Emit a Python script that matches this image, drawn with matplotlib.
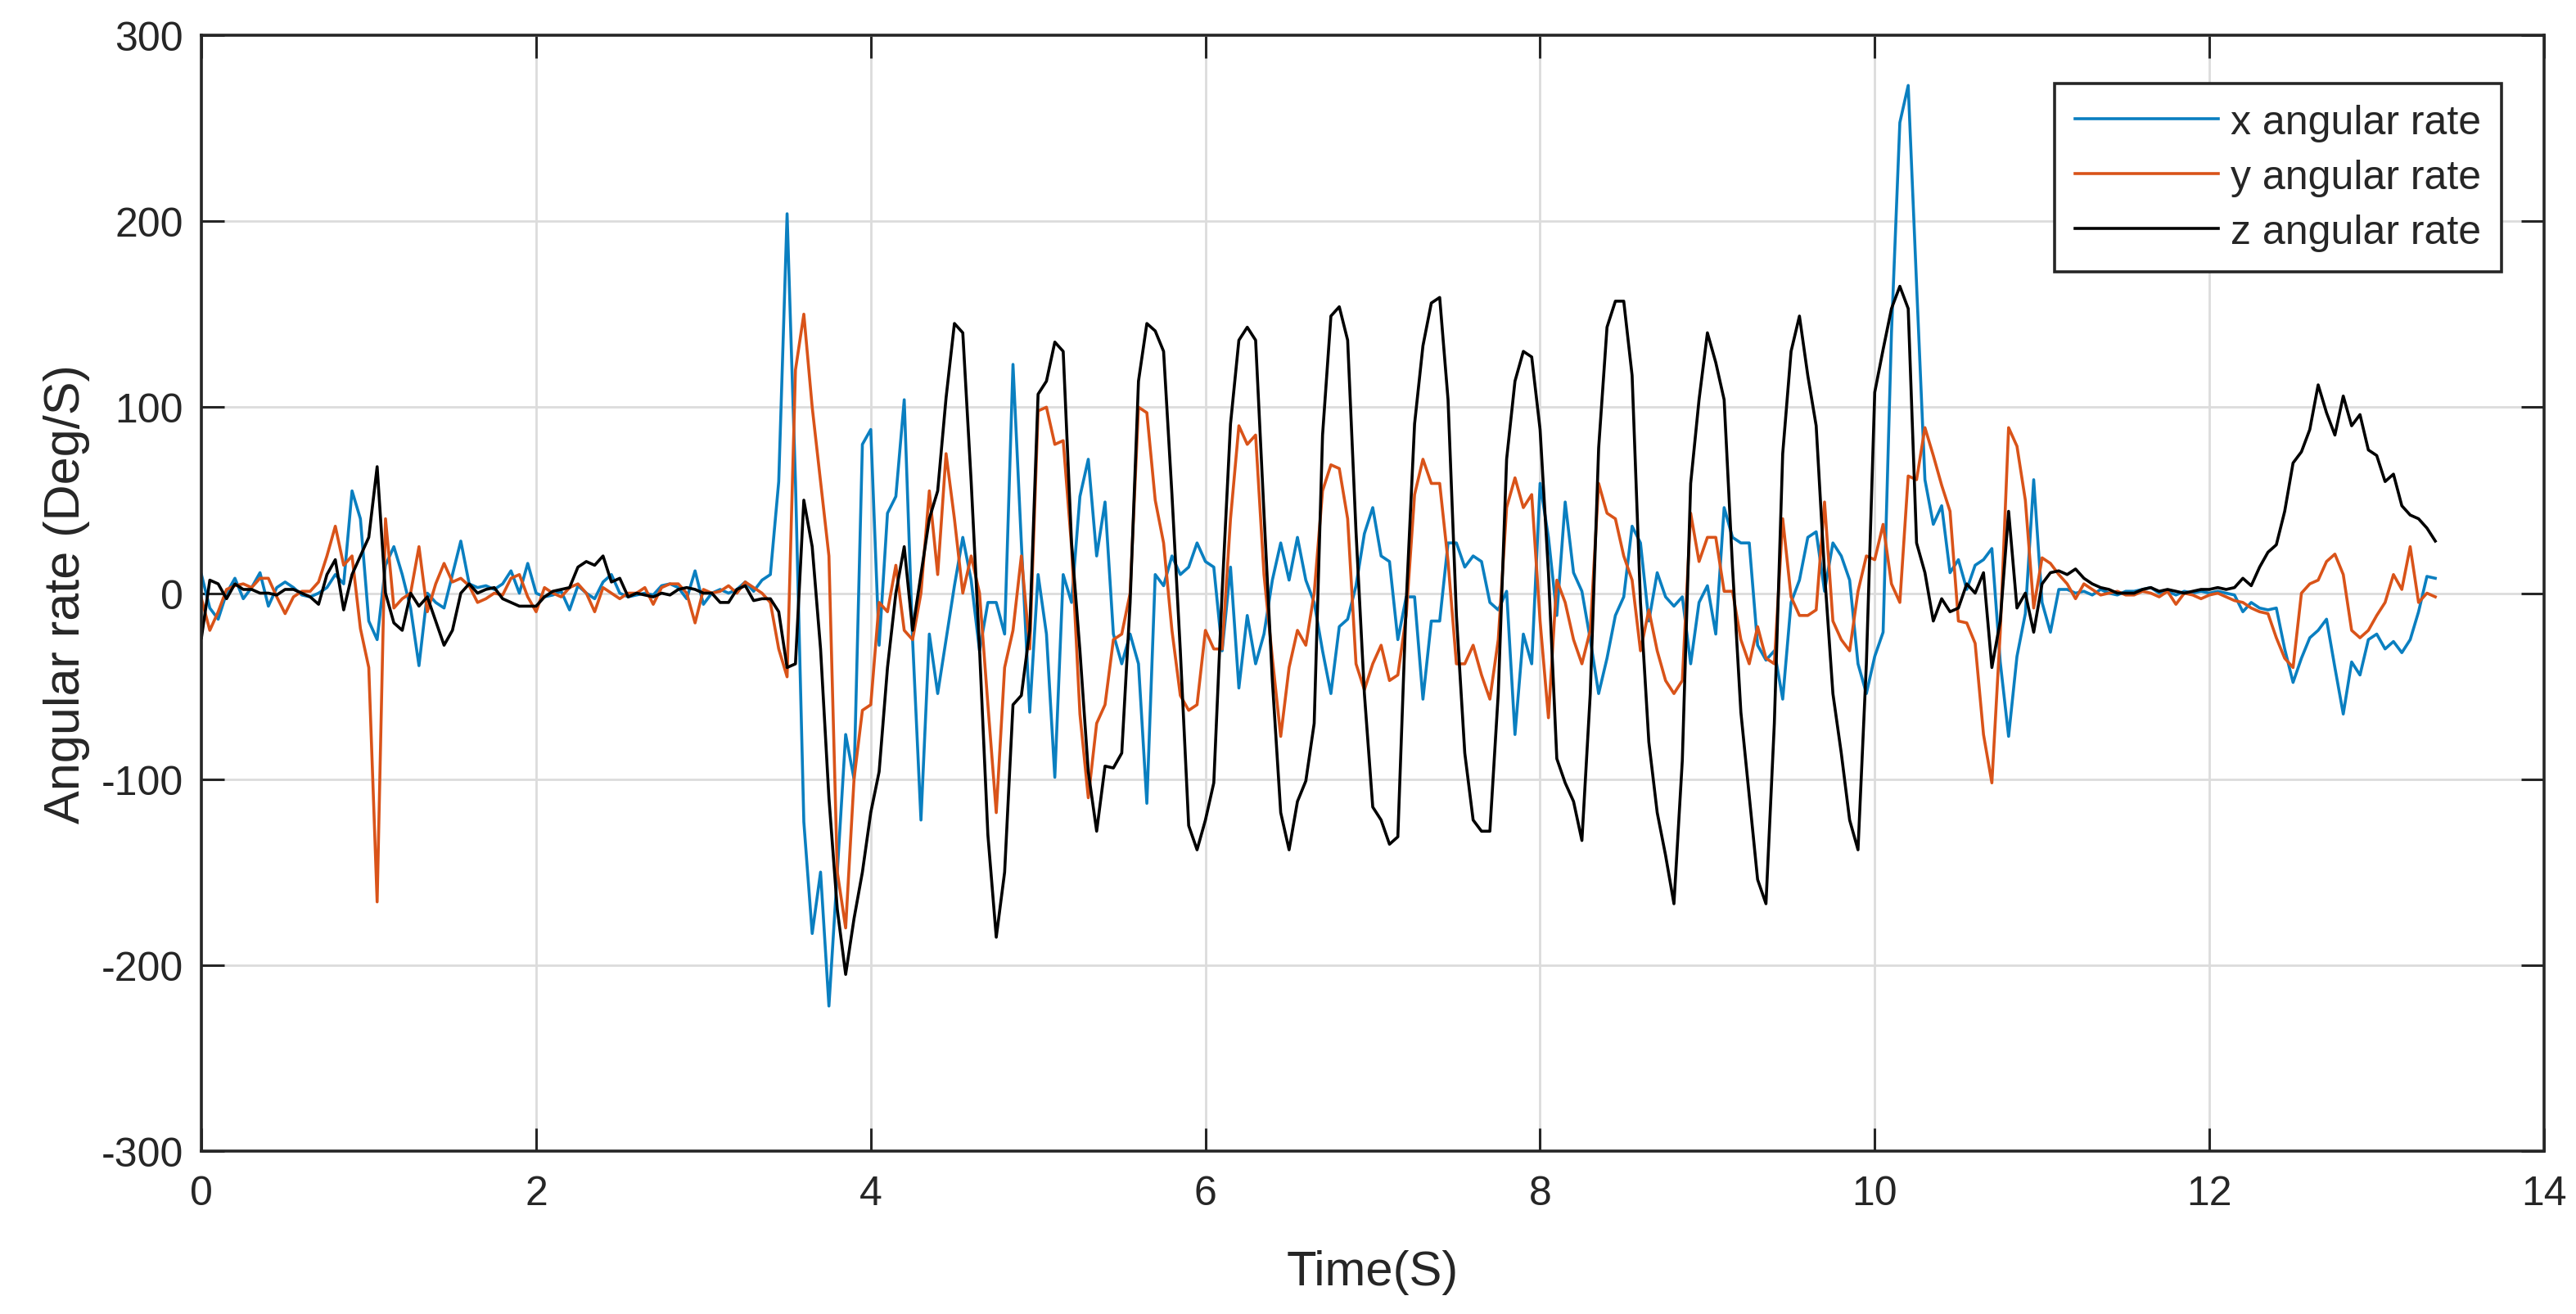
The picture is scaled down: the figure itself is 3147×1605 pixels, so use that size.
import numpy as np
import matplotlib
matplotlib.use("Agg")
import matplotlib.pyplot as plt

dt = 0.05
x_rate = [
    10, -8, -14, 0, 8, -3, 3, 11, -7, 3, 6, 3, -1, -2, 0, 3, 10, 5, 55, 40,
    -15, -25, 15, 25, 10, -8, -39, 0, -5, -8, 10, 28, 5, 3, 4, 2, 5, 12, 0, 16,
    0, -2, -1, 1, -9, 4, 0, -3, 6, 10, 0, -2, -1, 0, -1, 4, 5, 3, -3, 12,
    -6, 0, 2, 0, 2, 6, 1, 7, 10, 60, 204, 60, -123, -183, -150, -222, -150, -76, -100, 80,
    88, -28, 43, 52, 104, -25, -122, -22, -54, -25, 4, 30, 7, -31, -5, -5, -22, 123, 27, -64,
    10, -22, -99, 10, -5, 52, 72, 20, 49, -22, -38, -22, -38, -113, 10, 4, 20, 10, 14, 27,
    17, 14, -31, 14, -51, -12, -38, -22, 7, 27, 7, 30, 7, -5, -31, -54, -18, -14, 4, 32,
    46, 20, 17, -25, -2, -2, -57, -15, -15, 27, 27, 14, 20, 17, -5, -9, 1, -76, -22, -38,
    59, 30, -12, 49, 11, 1, -25, -54, -35, -12, -2, 36, 27, -15, 11, -2, -7, -2, -38, -5,
    4, -22, 46, 30, 27, 27, -28, -36, -31, -57, -5, 7, 30, 33, 1, 27, 20, 7, -38, -54,
    -34, -21, 140, 253, 273, 166, 61, 37, 47, 11, 18, 2, 15, 18, 24, -37, -77, -34, -11, 61,
    -5, -21, 2, 2, 0, 1, -1, 2, 0, -1, 1, 1, 2, 3, 0, 1, -1, 1, 0, 1,
    0, 1, 0, -1, -10, -5, -8, -9, -8, -30, -48, -35, -24, -20, -14, -40, -65, -37, -44, -25,
    -22, -30, -26, -32, -25, -10, 9, 8,
]
y_rate = [
    -3, -20, -10, 2, 4, 5, 3, 8, 8, -2, -11, -2, 1, 1, 6, 20, 36, 15, 20, -19,
    -40, -166, 40, -8, -3, 0, 25, -10, 5, 16, 6, 8, 4, -5, -3, 0, -1, 8, 10, -2,
    -10, 3, 0, -2, 3, 5, 0, -10, 3, 0, -3, 0, 0, 3, -6, 3, 5, 5, 0, -16,
    2, 0, 1, 4, 0, 6, 3, 0, -5, -30, -45, 120, 150, 100, 60, 20, -150, -180, -100, -63,
    -60, -5, -10, 15, -20, -25, 0, 55, 10, 75, 40, 0, 20, 0, -60, -118, -40, -20, 20, -30,
    98, 100, 80, 82, 25, -65, -110, -70, -60, -25, -22, 0, 100, 97, 50, 27, -20, -55, -63, -60,
    -20, -30, -30, 40, 90, 80, 85, 10, -35, -77, -40, -20, -28, 0, 55, 69, 67, 40, -38, -52,
    -38, -28, -47, -44, -12, 53, 72, 59, 59, 17, -38, -38, -28, -44, -57, -25, 46, 62, 46, 53,
    -15, -67, 7, -5, -25, -38, -20, 59, 43, 40, 20, 7, -31, -9, -31, -47, -54, -47, 43, 17,
    30, 30, 1, 1, -25, -38, -18, -35, -38, 40, -2, -12, -12, -9, 49, -15, -25, -31, 1, 20,
    18, 37, 5, -5, 63, 61, 89, 74, 58, 44, -15, -16, -27, -76, -102, -21, 89, 79, 50, -8,
    19, 16, 10, 5, -3, 5, 2, -1, 0, 1, -1, -1, 1, 0, -2, 1, -6, 0, -1, -3,
    -1, 0, -2, -4, -5, -8, -10, -11, -24, -35, -40, 0, 5, 7, 17, 21, 10, -20, -24, -20,
    -12, -5, 10, 2, 25, -5, 0, -2,
]
z_rate = [
    -24, 7, 5, -3, 5, 2, 2, 0, 0, -1, 2, 2, 0, -2, -6, 10, 18, -9, 10, 20,
    30, 68, 0, -16, -20, 0, -7, -2, -15, -28, -20, 0, 5, 0, 2, 3, -3, -5, -7, -7,
    -7, -2, 1, 2, 3, 14, 17, 15, 20, 6, 8, -2, 0, -1, -2, 0, -1, 2, 3, 2,
    0, 0, -5, -5, 2, 4, -4, -3, -3, -10, -40, -38, 50, 25, -30, -110, -170, -205, -175, -150,
    -118, -96, -40, 0, 25, -20, 10, 40, 55, 105, 145, 140, 60, -30, -130, -185, -150, -60, -55, -20,
    107, 114, 135, 130, 27, -31, -96, -128, -93, -94, -86, -5, 114, 145, 141, 130, 53, -31, -125, -138,
    -122, -102, 1, 91, 136, 143, 136, 43, -47, -118, -138, -112, -101, -70, 85, 149, 154, 136, 33, -54,
    -115, -122, -135, -131, -5, 91, 133, 156, 159, 104, -12, -86, -122, -128, -128, -54, 72, 114, 130, 127,
    88, 11, -89, -102, -112, -133, -54, 78, 143, 157, 157, 117, -5, -80, -118, -141, -167, -90, 59, 104,
    140, 124, 104, 14, -64, -109, -154, -167, -70, 75, 130, 149, 117, 90, 11, -54, -86, -122, -138, -38,
    108, 131, 153, 165, 153, 27, 11, -15, -3, -10, -8, 5, 0, 11, -40, -15, 44, -8, 0, -21,
    5, 11, 12, 10, 13, 8, 5, 3, 2, 0, 0, 0, 2, 3, 1, 2, 1, 0, 1, 2,
    2, 3, 2, 3, 8, 4, 14, 22, 26, 44, 70, 76, 88, 112, 97, 85, 106, 90, 96, 77,
    74, 60, 64, 47, 42, 40, 35, 28,
]
series_labels = ["x angular rate", "y angular rate", "z angular rate"]
x_ticks = [0, 2, 4, 6, 8, 10, 12, 14]
y_ticks = [-300, -200, -100, 0, 100, 200, 300]

time = np.arange(len(z_rate)) * dt

# ---------------- figure ----------------
plt.rcParams['font.family'] = ['Liberation Sans', 'DejaVu Sans']
plt.rcParams['axes.unicode_minus'] = False
fig = plt.figure(figsize=(31.47, 16.06), dpi=100)
ax = fig.add_axes([0.0782, 0.1239, 0.9094, 0.8487])

colors = ['#0a7fc0', '#d95319', '#000000']
for vals, lab, c in zip([x_rate, y_rate, z_rate], series_labels, colors):
    ax.plot(time, vals, color=c, lw=2.6, label=lab)

ax.set_xlim(0, 14)
ax.set_ylim(-300, 300)
ax.set_xticks(x_ticks)
ax.set_yticks(y_ticks)
ax.grid(True, color='#dcdcdc', lw=2.0)
ax.set_axisbelow(True)

for s in ax.spines.values():
    s.set_color('#262626')
    s.set_linewidth(2.6)

ax.tick_params(axis='both', which='both', direction='in', length=20, width=2.2,
               color='#262626', labelcolor='#262626', labelsize=36,
               top=True, right=True)
ax.tick_params(axis='x', pad=21)
ax.tick_params(axis='y', pad=16)

ax.set_xlabel('Time(S)', fontsize=43, color='#262626', labelpad=32)
ax.set_ylabel('Angular rate (Deg/S)', fontsize=44, color='#262626', labelpad=10)

leg = ax.legend(loc='upper right', bbox_to_anchor=(0.982, 0.957), borderaxespad=0,
                fontsize=36, handlelength=3.5, handletextpad=0.3, labelspacing=0.42,
                borderpad=0.5, fancybox=False, framealpha=1, edgecolor='#262626')
leg.get_frame().set_linewidth(2.6)
for t in leg.get_texts():
    t.set_color('#262626')

fig.savefig('out.png', dpi=100)
